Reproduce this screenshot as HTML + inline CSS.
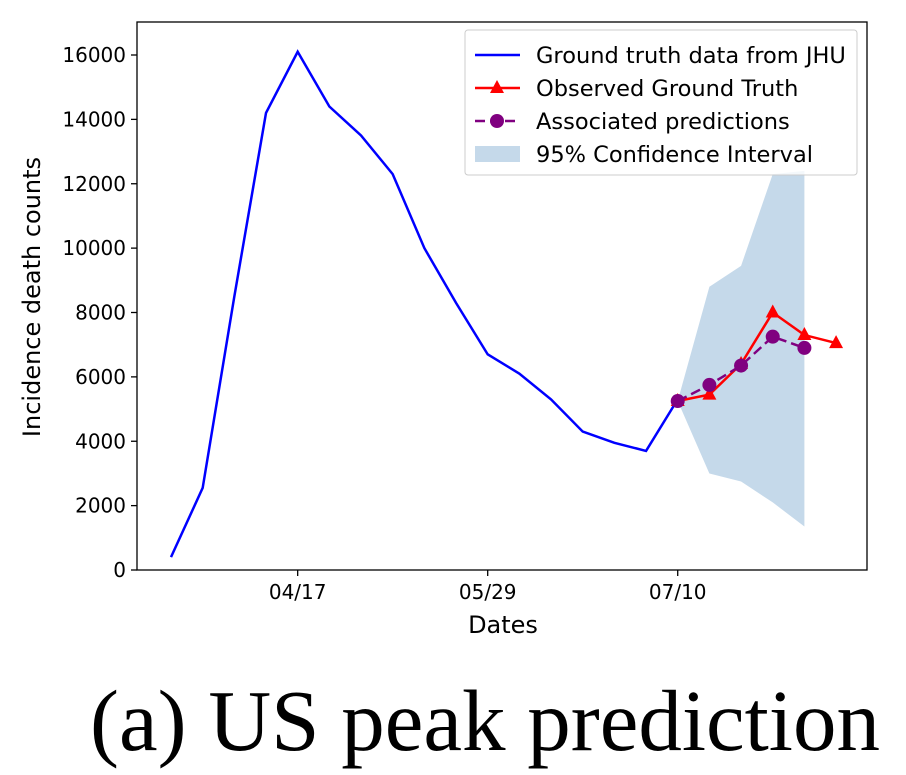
<!DOCTYPE html>
<html><head><meta charset="utf-8"><style>
body{margin:0;background:#fff;width:906px;height:770px;overflow:hidden}
svg text{font-family:"DejaVu Sans","Liberation Sans",sans-serif;fill:#000}
</style></head><body>
<svg id="chart" width="906" height="770" xmlns="http://www.w3.org/2000/svg">
<text x="485" y="750" text-anchor="middle" style="font-family:'Liberation Serif',serif;font-size:87px">(a) US peak prediction</text>
</svg>
<script>
const weeks=[0,1,2,3,4,5,6,7,8,9,10,11,12,13,14,15,16,17,18,19,20,21];
const truth=[400,2550,8500,14200,16100,14400,13500,12300,10000,8300,6700,6100,5300,4300,3950,3700,5300];
const obsIdx=[16,17,18,19,20,21];
const observed=[5250,5450,6400,8000,7300,7050];
const predIdx=[16,17,18,19,20];
const predicted=[5250,5750,6350,7250,6900];
const ciUpper=[5250,8800,9450,12300,12400];
const ciLower=[5250,3000,2750,2100,1350];
const yTicks=[0,2000,4000,6000,8000,10000,12000,14000,16000];
const xTickIdx=[4,10,16];
const xTickLabels=["04/17","05/29","07/10"];

const L=137,R=867,T=22,B=570;
const sx=i=>171+i*31.67;
const sy=v=>B-v*(515/16000);
const svg=document.getElementById('chart');
const NS='http://www.w3.org/2000/svg';
function mk(tag,attrs){const e=document.createElementNS(NS,tag);for(const k in attrs)e.setAttribute(k,attrs[k]);svg.appendChild(e);return e;}

let pts=predIdx.map((w,i)=>sx(w)+','+sy(ciUpper[i]));
for(let i=predIdx.length-1;i>=0;i--)pts.push(sx(predIdx[i])+','+sy(ciLower[i]));
const ci=mk('polygon',{points:pts.join(' '),fill:'#c5d9ea'});



const tl=mk('polyline',{points:truth.map((v,i)=>sx(i)+','+sy(v)).join(' '),fill:'none',stroke:'#0000ff','stroke-width':2.5});



const ol=mk('polyline',{points:observed.map((v,i)=>sx(obsIdx[i])+','+sy(v)).join(' '),fill:'none',stroke:'#ff0000','stroke-width':2.5});


observed.forEach((v,i)=>{const x=sx(obsIdx[i]),y=sy(v);
 const m=mk('polygon',{points:`${x},${y-8} ${x-7},${y+5} ${x+7},${y+5}`,fill:'#ff0000'});
 
 });

const pl=mk('polyline',{points:predicted.map((v,i)=>sx(predIdx[i])+','+sy(v)).join(' '),fill:'none',stroke:'#800080','stroke-width':2.5,'stroke-dasharray':'10,5'});


predicted.forEach((v,i)=>{const m=mk('circle',{cx:sx(predIdx[i]),cy:sy(v),r:7,fill:'#800080'});
 
 });

const fr=mk('rect',{x:L,y:T,width:R-L,height:B-T,fill:'none',stroke:'#000','stroke-width':1.3});


yTicks.forEach(v=>{const y=sy(v);
 mk('line',{x1:L-6,x2:L,y1:y,y2:y,stroke:'#000','stroke-width':1.3});
 const t=mk('text',{x:L-11,y:y+7,'text-anchor':'end','font-size':20});t.textContent=v;
 
 });
xTickIdx.forEach((w,i)=>{const x=sx(w);
 mk('line',{x1:x,x2:x,y1:B,y2:B+6,stroke:'#000','stroke-width':1.3});
 const t=mk('text',{x:x,y:B+29,'text-anchor':'middle','font-size':20});t.textContent=xTickLabels[i];
 
 });
const xt=mk('text',{x:503,y:633,'text-anchor':'middle','font-size':24});xt.textContent='Dates';


const yt=mk('text',{x:40,y:297,'text-anchor':'middle','font-size':24,transform:'rotate(-90 40 297)'});yt.textContent='Incidence death counts';



const lg=mk('rect',{x:465,y:30,width:392,height:145,rx:3,fill:'#fff','fill-opacity':0.8,stroke:'#ccc'});


const labels=['Ground truth data from JHU','Observed Ground Truth','Associated predictions','95% Confidence Interval'];
labels.forEach((s,i)=>{const y=55+i*33;
 if(i==0)mk('line',{x1:475,x2:520,y1:y,y2:y,stroke:'#0000ff','stroke-width':2.5});
 if(i==1){mk('line',{x1:475,x2:520,y1:y,y2:y,stroke:'#ff0000','stroke-width':2.5});mk('polygon',{points:`497,${y-8} 490,${y+5} 504,${y+5}`,fill:'#ff0000'});}
 if(i==2){mk('line',{x1:475,x2:520,y1:y,y2:y,stroke:'#800080','stroke-width':2.5,'stroke-dasharray':'10,5'});mk('circle',{cx:497,cy:y,r:7,fill:'#800080'});}
 if(i==3)mk('rect',{x:475,y:y-8,width:45,height:16,fill:'#c5d9ea'});
 const t=mk('text',{x:536,y:y+8,'font-size':22.5});t.textContent=s;
 
 });
</script>
</body></html>
